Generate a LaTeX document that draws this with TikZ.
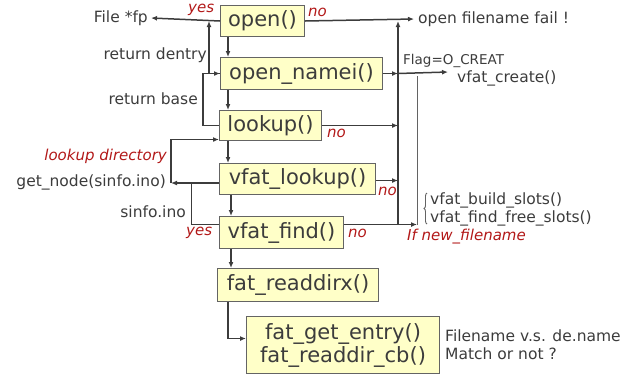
\documentclass[tikz,border=0pt]{standalone}
\usepackage{fontspec}
\setmainfont{DejaVu Sans}
\usetikzlibrary{arrows.meta,decorations.pathreplacing}
\definecolor{boxfill}{RGB}{255,255,200}
\definecolor{boxline}{RGB}{100,100,100}
\definecolor{ink}{RGB}{60,60,60}
\definecolor{note}{RGB}{178,24,24}

\begin{document}
\begin{tikzpicture}[x=1pt,y=-1pt,
  fn/.style={draw=boxline, line width=1pt, fill=boxfill, anchor=north west,
             inner sep=0pt, font=\fontsize{21}{23}\selectfont, text=ink},
  lbl/.style={inner sep=0pt, font=\fontsize{15.5}{18}\selectfont, text=ink},
  small/.style={inner sep=0pt, font=\fontsize{13.5}{16}\selectfont, text=ink},
  cond/.style={inner sep=0pt, font=\fontsize{15}{18}\selectfont\itshape, text=note},
  arr/.style={draw=ink, line width=1.5pt, -{Latex[length=6pt,width=5pt]}},
  wire/.style={draw=ink, line width=1pt},
  faint/.style={draw=ink!80, line width=0.9pt},
]
\useasboundingbox (0,0) rectangle (637,376);

% call chain boxes
\node[fn, minimum width=84pt,  minimum height=31pt] (open)     at (220,5)   {open()};
\node[fn, minimum width=162pt, minimum height=32pt] (namei)    at (220,57)  {open\_namei()};
\node[fn, minimum width=102pt, minimum height=30pt] (lookup)   at (219,110) {lookup()};
\node[fn, minimum width=156pt, minimum height=31pt] (vlookup)  at (219,163) {vfat\_lookup()};
\node[fn, minimum width=124pt, minimum height=32pt] (vfind)    at (219,216) {vfat\_find()};
\node[fn, minimum width=161pt, minimum height=33pt] (readdirx) at (217,268) {fat\_readdirx()};
\node[fn, minimum width=193pt, minimum height=57pt, align=center] (getentry) at (246,316)
  {fat\_get\_entry()\\fat\_readdir\_cb()};

% texts
\node[lbl, anchor=east] (fp)     at (148,18)  {File *fp};
\node[lbl, anchor=west] (fail)   at (418,19)  {open filename fail !};
\node[lbl, anchor=east] (rdent)  at (207,55)  {return dentry};
\node[lbl, anchor=east] (rbase)  at (198,99)  {return base};
\node[small, anchor=west] (flag) at (403,61)  {Flag=O\_CREAT};
\node[lbl, anchor=west] (create) at (457,78)  {vfat\_create()};
\node[cond, anchor=east] (ldir)  at (167,156) {lookup directory};
\node[lbl, anchor=east] (gnode)  at (166,182) {get\_node(sinfo.ino)};
\node[lbl, anchor=east] (sino)   at (186,212) {sinfo.ino};
\node[cond, anchor=west] (yes1)  at (188,10)  {yes};
\node[cond, anchor=west] (yes2)  at (186,233) {yes};
\node[cond, anchor=west] (no1)   at (308,12)  {no};
\node[cond, anchor=west] (no2)   at (327,133) {no};
\node[cond, anchor=west] (no3)   at (378,191) {no};
\node[cond, anchor=west] (no4)   at (348,233) {no};
\node[cond, anchor=west] (newfn) at (407,237) {If new\_filename};
\node[lbl, anchor=west] (build)  at (430,200) {vfat\_build\_slots()};
\node[lbl, anchor=west] (free)   at (430,218) {vfat\_find\_free\_slots()};
\node[lbl, anchor=west, align=left] (match) at (445,345)
  {Filename v.s. de.name\\Match or not ?};

% column coordinates
\coordinate (xd) at (209,0);
\coordinate (xb) at (203,0);
\coordinate (xt) at (398,0);
\coordinate (xs) at (417,0);
\coordinate (xl) at (171,0);
\coordinate (xi) at (191.5,0);
\coordinate (ctip) at (448,72);
\coordinate (stop) at (417,76);

% downward calls
\draw[arr] ([xshift=8pt]open.south west)     -- ([xshift=8pt]namei.north west);
\draw[arr] ([xshift=8pt]namei.south west)    -- ([xshift=9pt]lookup.north west);
\draw[arr] ([xshift=9pt]lookup.south west)   -- ([xshift=9pt]vlookup.north west);
\draw[arr] ([xshift=12pt]vlookup.south west) -- ([xshift=12pt]vfind.north west);
\draw[arr] ([xshift=12pt]vfind.south west)   -- ([xshift=14pt]readdirx.north west);
\draw[arr] ([xshift=11pt]readdirx.south west) |- ([yshift=6.5pt]getentry.west);

% returns on the left
\draw[arr] (open.west) -- ([xshift=3pt]fp.east);
\draw[arr] (namei.west) -| (open.west -| xd);
\draw[arr] (lookup.west) -- (lookup.west -| xb) |- (namei.west);
\draw[arr] ([yshift=-4pt]vlookup.west) -- ([yshift=-4pt]vlookup.west -| xl);
\draw[arr] ([yshift=-4pt]vlookup.west -| xl) |- ([yshift=-14pt]lookup.west);
\draw[wire] ([yshift=-4pt]vlookup.west -| xi) |- ([yshift=8pt]vfind.west);

% failures on the right
\draw[arr] (open.east) -- ([xshift=-4pt]fail.west);
\draw[arr] ([yshift=8pt]vfind.east -| xt) -- (open.east -| xt);
\draw[arr] (namei.east) -- (namei.east -| xt);
\draw[arr] (namei.east -| xt) -- (ctip);
\draw[arr] (lookup.east) -- (lookup.east -| xt);
\draw[arr] ([yshift=-1.5pt]vlookup.east) -- ([yshift=-1.5pt]vlookup.east -| xt);
\draw[arr] ([yshift=8pt]vfind.east) -- ([yshift=8pt]vfind.east -| xs);
\draw[faint] (stop) -- ([yshift=8pt]vfind.east -| xs);

% brace grouping the slot helpers
\draw[faint, decorate, decoration={brace, amplitude=3pt}] (427,224) -- (427,193);
\end{tikzpicture}
\end{document}
